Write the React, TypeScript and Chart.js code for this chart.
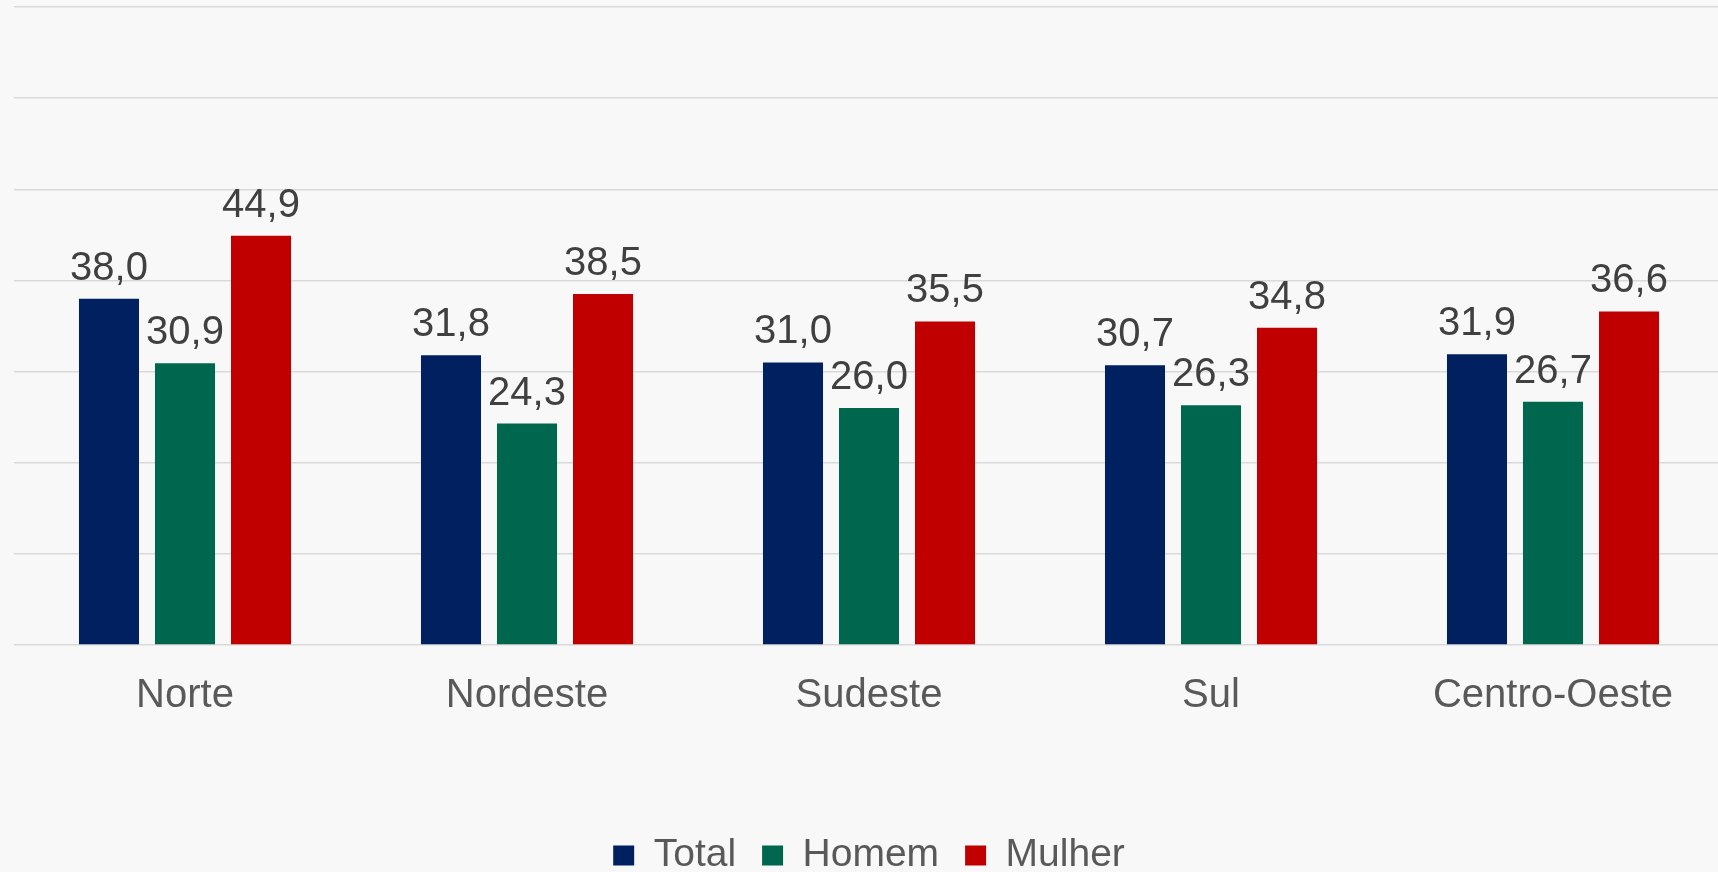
import React, { useEffect, useRef } from "react";
import { Chart, registerables } from "chart.js";

Chart.register(...registerables);

const categories = ["Norte", "Nordeste", "Sudeste", "Sul", "Centro-Oeste"];
const seriesNames = ["Total", "Homem", "Mulher"];
const totalValues = [38.0, 31.8, 31.0, 30.7, 31.9];
const homemValues = [30.9, 24.3, 26.0, 26.3, 26.7];
const mulherValues = [44.9, 38.5, 35.5, 34.8, 36.6];
const seriesColors = ["#002060", "#00674F", "#C00000"];
const yMin = 0;
const yMax = 70;
const yStep = 10;

const FONT = "'Liberation Sans', Arial, Helvetica, sans-serif";

const valueLabelPlugin = {
  id: "valueLabels",
  afterDatasetsDraw(chart: any) {
    const ctx = chart.ctx;
    ctx.save();
    ctx.font = `40px ${FONT}`;
    ctx.fillStyle = "#404040";
    ctx.textAlign = "center";
    ctx.textBaseline = "alphabetic";
    chart.data.datasets.forEach((ds: any, di: number) => {
      const meta = chart.getDatasetMeta(di);
      meta.data.forEach((el: any, i: number) => {
        const v = ds.data[i] as number;
        const txt = v.toFixed(1).replace(".", ",");
        ctx.fillText(txt, el.x, el.y - 19);
      });
    });
    ctx.restore();
  },
};

export default function App() {
  const canvasRef = useRef<HTMLCanvasElement | null>(null);

  useEffect(() => {
    document.body.style.margin = "0";
    document.body.style.background = "#F8F8F8";
    document.body.style.overflow = "hidden";
    const canvas = canvasRef.current;
    if (!canvas) return;
    const chart = new Chart(canvas, {
      type: "bar",
      data: {
        labels: categories,
        datasets: [
          { label: seriesNames[0], data: totalValues, backgroundColor: seriesColors[0] },
          { label: seriesNames[1], data: homemValues, backgroundColor: seriesColors[1] },
          { label: seriesNames[2], data: mulherValues, backgroundColor: seriesColors[2] },
        ],
      },
      options: {
        responsive: false,
        animation: false,
        devicePixelRatio: 1,
        layout: { padding: { left: 14, right: 0, top: 7, bottom: 0 } },
        datasets: {
          bar: { categoryPercentage: 0.6667, barPercentage: 0.79 },
        },
        plugins: {
          tooltip: { enabled: false },
          legend: {
            position: "bottom",
            labels: {
              boxWidth: 21,
              boxHeight: 20,
              padding: 26,
              color: "#595959",
              font: { family: FONT, size: 39 },
            },
          },
        },
        scales: {
          x: {
            grid: { display: false, drawTicks: false },
            border: { display: false },
            ticks: {
              color: "#595959",
              font: { family: FONT, size: 40 },
              padding: 27,
              maxRotation: 0,
            },
            afterFit(scale: any) {
              scale.height = 165;
            },
          },
          y: {
            min: yMin,
            max: yMax,
            ticks: { stepSize: yStep, display: false },
            grid: { color: "#D9D9D9", lineWidth: 1.5, drawTicks: false },
            border: { display: false },
            afterFit(scale: any) {
              scale.width = 0;
            },
          },
        },
      },
      plugins: [valueLabelPlugin],
    });
    return () => chart.destroy();
  }, []);

  return (
    <div
      style={{
        position: "fixed",
        left: 0,
        top: 0,
        width: 1718,
        height: 872,
        overflow: "hidden",
        background: "#F8F8F8",
      }}
    >
      <canvas ref={canvasRef} width={1724} height={885} />
    </div>
  );
}
